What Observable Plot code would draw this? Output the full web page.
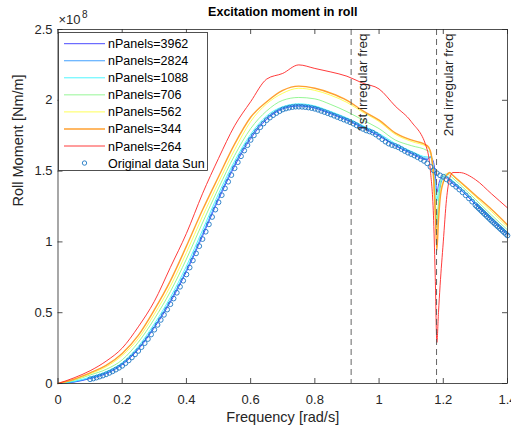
<!DOCTYPE html>
<html>
<head>
<meta charset="utf-8">
<script src="https://cdn.jsdelivr.net/npm/d3@7"></script>
<script src="https://cdn.jsdelivr.net/npm/@observablehq/plot@0.6"></script>
<style>
  body { margin: 0; background: #fff; }
  #wrap { position: relative; width: 511px; height: 428px; overflow: hidden; font-family: "Liberation Sans", Arial, sans-serif; }
  #legend { position: absolute; left: 58px; top: 32px; }
</style>
</head>
<body>
<div id="wrap"><div id="legend"></div></div>
<script>
// ---- data (roll moment in units of 1e8 Nm/m) ----
const freq = [0, 0.05, 0.1, 0.15, 0.2, 0.25, 0.3, 0.35, 0.4, 0.45, 0.5, 0.55, 0.6, 0.65, 0.7, 0.75, 0.8, 0.85, 0.9, 0.95, 1.0, 1.05, 1.1, 1.15,
              1.16, 1.17, 1.175, 1.18, 1.185, 1.19, 1.2, 1.21, 1.22, 1.23, 1.25, 1.3, 1.35, 1.4];
const p3962 = [0, 0.01, 0.035, 0.07, 0.133, 0.241, 0.394, 0.575, 0.79, 1.04, 1.30, 1.535, 1.73, 1.865, 1.94, 1.96, 1.945, 1.905, 1.86, 1.805, 1.748, 1.68, 1.625, 1.58,
               1.60, 1.56, 1.48, 1.35, 1.40, 1.44, 1.46, 1.45, 1.43, 1.41, 1.375, 1.265, 1.155, 1.05];
const p2824 = [0, 0.012, 0.038, 0.075, 0.138, 0.249, 0.404, 0.588, 0.804, 1.056, 1.315, 1.55, 1.745, 1.875, 1.945, 1.965, 1.95, 1.91, 1.865, 1.81, 1.755, 1.685, 1.63, 1.59,
               1.60, 1.45, 1.25, 1.10, 1.25, 1.38, 1.45, 1.46, 1.44, 1.42, 1.38, 1.27, 1.16, 1.055];
const p1088 = [0, 0.015, 0.045, 0.083, 0.147, 0.262, 0.421, 0.608, 0.829, 1.082, 1.34, 1.57, 1.76, 1.89, 1.955, 1.975, 1.96, 1.92, 1.875, 1.82, 1.765, 1.695, 1.64, 1.60,
               1.60, 1.52, 1.40, 1.29, 1.36, 1.42, 1.46, 1.465, 1.45, 1.43, 1.39, 1.28, 1.17, 1.065];
const p706  = [0, 0.022, 0.06, 0.10, 0.167, 0.291, 0.456, 0.649, 0.879, 1.134, 1.38, 1.61, 1.80, 1.925, 2.00, 2.02, 2.01, 1.97, 1.92, 1.86, 1.80, 1.72, 1.68, 1.645,
               1.63, 1.48, 1.30, 1.15, 1.28, 1.40, 1.47, 1.48, 1.47, 1.45, 1.41, 1.30, 1.19, 1.085];
const p562  = [0, 0.027, 0.068, 0.118, 0.198, 0.317, 0.489, 0.687, 0.924, 1.18, 1.42, 1.65, 1.85, 1.975, 2.05, 2.085, 2.07, 2.035, 1.985, 1.915, 1.85, 1.76, 1.71, 1.67,
               1.64, 1.42, 1.20, 1.05, 1.20, 1.33, 1.43, 1.47, 1.485, 1.465, 1.425, 1.32, 1.215, 1.105];
const p344  = [0, 0.03, 0.075, 0.128, 0.212, 0.34, 0.52, 0.725, 0.97, 1.225, 1.46, 1.69, 1.88, 1.99, 2.07, 2.10, 2.085, 2.05, 2.00, 1.925, 1.86, 1.77, 1.72, 1.68,
               1.64, 1.45, 1.20, 0.94, 1.15, 1.30, 1.42, 1.47, 1.49, 1.47, 1.43, 1.33, 1.23, 1.12];
const p264  = [0, 0.04, 0.09, 0.158, 0.25, 0.40, 0.58, 0.82, 1.06, 1.34, 1.59, 1.82, 1.99, 2.15, 2.19, 2.25, 2.225, 2.20, 2.17, 2.12, 2.08, 1.96, 1.85, 1.65,
               1.50, 1.15, 0.75, 0.29, 0.50, 0.69, 1.00, 1.30, 1.45, 1.49, 1.49, 1.44, 1.34, 1.24];

const sunFreq = [0.10,0.11,0.12,0.13,0.14,0.15,0.16,0.17,0.18,0.19,
  0.20,0.21,0.22,0.23,0.24,0.25,0.26,0.27,0.28,0.29,
  0.30,0.31,0.32,0.33,0.34,0.35,0.36,0.37,0.38,0.39,
  0.40,0.41,0.42,0.43,0.44,0.45,0.46,0.47,0.48,0.49,
  0.50,0.51,0.52,0.53,0.54,0.55,0.56,0.57,0.58,0.59,
  0.60,0.61,0.62,0.63,0.64,0.65,0.66,0.67,0.68,0.69,
  0.70,0.71,0.72,0.73,0.74,0.75,0.76,0.77,0.78,0.79,
  0.80,0.81,0.82,0.83,0.84,0.85,0.86,0.87,0.88,0.89,
  0.90,0.91,0.92,0.93,0.94,0.95,0.96,0.97,0.98,0.99,
  1.00,1.01,1.02,1.03,1.04,1.05,1.06,1.07,1.08,1.09,
  1.10,1.11,1.12,1.13,1.14,1.15,1.16,1.17,1.18,1.19,
  1.20,1.21,1.22,1.23,1.24,1.25,1.26,1.27,1.28,1.29,
  1.30,1.305,1.31,1.315,1.32,1.325,1.33,1.335,1.34,1.345,
  1.35,1.355,1.36,1.365,1.37,1.375,1.38,1.385,1.39,1.395,1.40];
const sunRoll = [0.030,0.035,0.042,0.049,0.056,0.065,0.075,0.086,0.098,0.111,
  0.125,0.143,0.163,0.184,0.206,0.230,0.257,0.285,0.314,0.346,
  0.380,0.414,0.449,0.485,0.522,0.560,0.600,0.641,0.683,0.726,
  0.770,0.819,0.869,0.919,0.970,1.020,1.072,1.124,1.176,1.228,
  1.280,1.330,1.378,1.425,1.472,1.520,1.563,1.605,1.645,1.683,
  1.720,1.752,1.782,1.810,1.836,1.860,1.878,1.895,1.910,1.923,
  1.935,1.942,1.948,1.952,1.955,1.955,1.954,1.952,1.949,1.945,
  1.940,1.933,1.925,1.917,1.909,1.900,1.891,1.882,1.873,1.864,
  1.855,1.845,1.835,1.823,1.810,1.798,1.787,1.780,1.772,1.758,
  1.742,1.725,1.708,1.694,1.684,1.677,1.668,1.655,1.642,1.630,
  1.620,1.610,1.598,1.585,1.572,1.555,1.530,1.505,1.485,1.470,
  1.460,1.442,1.425,1.407,1.389,1.370,1.350,1.329,1.307,1.284,
  1.260,1.249,1.238,1.227,1.216,1.205,1.194,1.183,1.172,1.161,
  1.150,1.140,1.129,1.119,1.108,1.098,1.087,1.077,1.066,1.056,1.045];

const seriesNames = ["nPanels=3962", "nPanels=2824", "nPanels=1088", "nPanels=706", "nPanels=562", "nPanels=344", "nPanels=264"];
const seriesValues = [p3962, p2824, p1088, p706, p562, p344, p264];
const seriesColors = ["#3535ff", "#2b95ff", "#3af5ff", "#8af58a", "#ffff45", "#ffa030", "#ff2525"];
const seriesWidths = [0.9, 0.9, 0.9, 0.9, 0.9, 1.4, 0.9];
const sunName = "Original data Sun";
const sunColor = "#1f78c4";

const irregularFreq = [0.913, 1.179];
const irregularLabels = ["1st irregular freq", "2nd irregular freq"];

const xTicks = [0, 0.2, 0.4, 0.6, 0.8, 1, 1.2, 1.4];
const xTickLabels = ["0", "0.2", "0.4", "0.6", "0.8", "1", "1.2", "1.4"];
const yTicks = [0, 0.5, 1, 1.5, 2, 2.5];
const yTickLabels = ["0", "0.5", "1", "1.5", "2", "2.5"];

const titleText = "Excitation moment in roll";
const xLabel = "Frequency [rad/s]";
const yLabel = "Roll Moment [Nm/m]";
const yExponent = ["×10", "8"];

// ---- build ----
const W = 511, H = 428, mL = 57.5, mR = 4, mT = 29, mB = 45;
const innerW = W - mL - mR, innerH = H - mT - mB;
const tick = 5;
const axisColor = "#262626";

const lineMarks = seriesValues.map((vals, k) =>
  Plot.line(freq.map((f, i) => ({f, v: vals[i]})), {
    x: "f", y: "v", stroke: seriesColors[k], strokeWidth: seriesWidths[k], curve: "monotone-x"
  })
);
const sunData = sunFreq.map((f, i) => ({f, v: sunRoll[i]}));

const plot = Plot.plot({
  width: W, height: H,
  marginLeft: mL, marginRight: mR, marginTop: mT, marginBottom: mB,
  style: {fontFamily: "'Liberation Sans', Arial, sans-serif", fontSize: "13px", color: axisColor, background: "white", overflow: "visible"},
  x: {domain: [0, 1.4]},
  y: {domain: [0, 2.5]},
  marks: [
    ...lineMarks,
    Plot.dot(sunData, {x: "f", y: "v", r: 2.4, stroke: sunColor, strokeWidth: 0.9, fill: "none"}),
    Plot.ruleX(irregularFreq, {x: d => d, stroke: "#555", strokeWidth: 0.9, strokeDasharray: "6,4"}),
    Plot.text(irregularFreq, {x: d => d, text: (d, i) => irregularLabels[i], frameAnchor: "top", rotate: -90,
      textAnchor: "end", lineAnchor: "middle", dx: 12, dy: 4, fontSize: 13.5, fill: "#262626"}),
    Plot.frame({stroke: axisColor, strokeWidth: 0.8}),
    // inward ticks on all four sides
    Plot.tickX(xTicks, {x: d => d, insetTop: innerH - tick, stroke: axisColor, strokeWidth: 0.8}),
    Plot.tickX(xTicks, {x: d => d, insetBottom: innerH - tick, stroke: axisColor, strokeWidth: 0.8}),
    Plot.tickY(yTicks, {y: d => d, insetRight: innerW - tick, stroke: axisColor, strokeWidth: 0.8}),
    Plot.tickY(yTicks, {y: d => d, insetLeft: innerW - tick, stroke: axisColor, strokeWidth: 0.8}),
    Plot.axisX(xTicks, {tickSize: 0, tickPadding: 11, tickFormat: d => xTickLabels[xTicks.indexOf(d)], label: null, fontSize: 13, fill: axisColor}),
    Plot.axisY(yTicks, {tickSize: 0, tickPadding: 5.5, tickFormat: d => yTickLabels[yTicks.indexOf(d)], label: null, fontSize: 13, fill: axisColor}),
    Plot.text([titleText], {frameAnchor: "top", lineAnchor: "middle", dy: -18, fontWeight: "bold", fontSize: 12.5, fill: "#000"}),
    Plot.text([xLabel], {frameAnchor: "bottom", lineAnchor: "middle", dy: 34, fontSize: 14.5, fill: axisColor}),
    Plot.text([yLabel], {frameAnchor: "left", lineAnchor: "middle", rotate: -90, dx: -40, fontSize: 14.5, fill: axisColor}),
    Plot.text([yExponent[0]], {frameAnchor: "top-left", textAnchor: "start", lineAnchor: "middle", dx: 0.5, dy: -10, fontSize: 13, fill: axisColor}),
    Plot.text([yExponent[1]], {frameAnchor: "top-left", textAnchor: "start", lineAnchor: "middle", dx: 24, dy: -15, fontSize: 10, fill: axisColor})
  ]
});
document.getElementById("wrap").insertBefore(plot, document.getElementById("legend"));

// ---- legend ----
const legW = 150, legH = 139, rowH = 17.05, row0 = 11.7;
const leg = d3.select("#legend").append("svg").attr("width", legW).attr("height", legH)
  .style("font-family", "'Liberation Sans', Arial, sans-serif").style("font-size", "12.5px");
leg.append("rect").attr("x", 0.5).attr("y", 0.5).attr("width", legW - 1).attr("height", legH - 1)
  .attr("fill", "white").attr("stroke", axisColor).attr("stroke-width", 0.8);
const entries = seriesNames.map((n, k) => ({name: n, color: seriesColors[k], w: seriesWidths[k], type: "line"}))
  .concat([{name: sunName, color: sunColor, type: "dot"}]);
entries.forEach((e, i) => {
  const y = row0 + i * rowH;
  if (e.type === "line") {
    leg.append("line").attr("x1", 6).attr("x2", 47).attr("y1", y).attr("y2", y)
      .attr("stroke", e.color).attr("stroke-width", e.w);
  } else {
    leg.append("circle").attr("cx", 26.5).attr("cy", y).attr("r", 2.2)
      .attr("fill", "none").attr("stroke", e.color).attr("stroke-width", 0.9);
  }
  leg.append("text").attr("x", 50).attr("y", y).attr("dy", "0.36em").attr("fill", "#000").text(e.name);
});
</script>
</body>
</html>
